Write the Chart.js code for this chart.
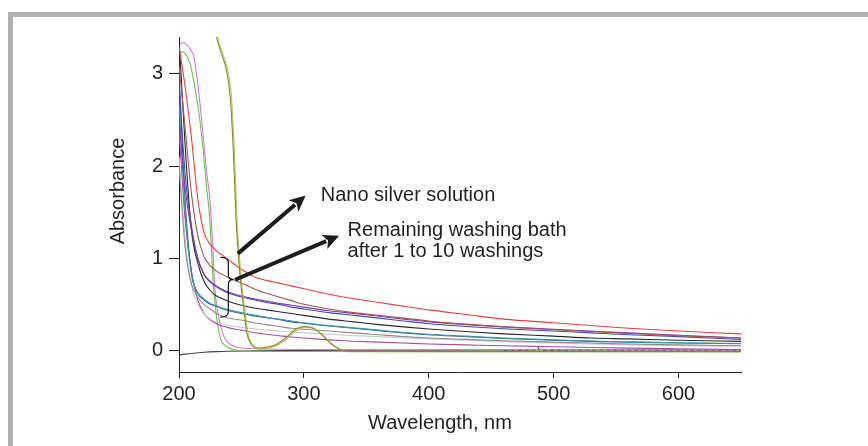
<!DOCTYPE html>
<html><head><meta charset="utf-8">
<script src="https://cdn.jsdelivr.net/npm/chart.js@4.4.0/dist/chart.umd.min.js"></script>
<style>
html,body{margin:0;padding:0;background:#fff;}
#wrap{position:relative;width:868px;height:446px;overflow:hidden;background:#fff;}
#frame{position:absolute;left:8px;top:12px;width:900px;height:500px;border-left:5px solid #b1b1b3;border-top:5px solid #b1b1b3;box-sizing:border-box;}
canvas{position:absolute;left:0;top:0;}
</style></head><body>
<div id="wrap"><div id="frame"></div><canvas id="c" width="868" height="446"></canvas></div>
<script>
// ---- data (wavelength in nm, absorbance) ----
const wlGrid = [200,205,210,215,220,225,230,235,240,250,260,270,280,290,300,320,340,360,380,400,430,460,500,530,560,600,650];
const redAbs    = [3.30,2.85,2.30,1.65,1.28,1.15,1.08,1.03,0.98,0.88,0.80,0.76,0.73,0.70,0.67,0.61,0.56,0.52,0.48,0.44,0.39,0.34,0.30,0.27,0.24,0.21,0.18];
const brownAbs  = [3.10,2.40,1.70,1.25,1.02,0.92,0.86,0.82,0.79,0.73,0.67,0.62,0.58,0.54,0.50,0.45,0.41,0.38,0.35,0.32,0.285,0.255,0.225,0.205,0.185,0.16,0.135];
const blueUpAbs = [2.90,1.90,1.35,1.00,0.82,0.74,0.69,0.65,0.62,0.58,0.55,0.52,0.50,0.47,0.45,0.41,0.38,0.35,0.32,0.29,0.26,0.235,0.21,0.19,0.17,0.15,0.12];
const purpleUpAbs = [2.50,1.75,1.30,1.00,0.83,0.75,0.70,0.66,0.63,0.59,0.56,0.535,0.51,0.49,0.47,0.43,0.40,0.37,0.34,0.31,0.28,0.255,0.23,0.21,0.19,0.165,0.135];
const blackMidAbs = [3.40,2.20,1.30,0.95,0.75,0.65,0.59,0.56,0.53,0.49,0.46,0.44,0.42,0.40,0.38,0.34,0.31,0.28,0.255,0.232,0.205,0.18,0.155,0.135,0.125,0.11,0.098];
const blueLowAbs  = [3.00,1.60,0.85,0.62,0.55,0.50,0.48,0.45,0.43,0.40,0.375,0.355,0.335,0.31,0.295,0.265,0.24,0.215,0.19,0.17,0.15,0.13,0.11,0.098,0.09,0.08,0.072];
const tealAbs     = [2.70,1.50,0.82,0.63,0.56,0.51,0.485,0.46,0.44,0.41,0.385,0.36,0.34,0.32,0.30,0.27,0.245,0.22,0.195,0.175,0.155,0.135,0.115,0.102,0.093,0.083,0.075];
const grayAbs     = [2.00,1.10,0.72,0.58,0.50,0.45,0.40,0.37,0.35,0.33,0.30,0.28,0.26,0.24,0.23,0.21,0.19,0.17,0.15,0.135,0.12,0.105,0.09,0.08,0.07,0.06,0.05];
const lightGrayAbs= [2.10,1.20,0.70,0.50,0.40,0.34,0.31,0.29,0.27,0.25,0.235,0.22,0.21,0.20,0.19,0.175,0.16,0.15,0.135,0.125,0.11,0.095,0.08,0.07,0.06,0.05,0.045];
const purpleLowAbs= [2.40,1.40,0.85,0.55,0.40,0.33,0.29,0.265,0.245,0.22,0.195,0.175,0.16,0.145,0.135,0.115,0.10,0.09,0.08,0.07,0.06,0.05,0.04,0.032,0.025,0.018,0.01];

const pinkWl  = [200,203,206,209,212,215,217,219.4,222,224.8,226.1,227.5,228.8,231,232.8,236,239.5,245,250,270,300,400,500,650];
const pinkAbs = [3.30,3.34,3.32,3.27,3.18,2.90,2.65,2.32,1.95,1.63,1.35,1.00,0.66,0.42,0.30,0.15,0.08,0.04,0.026,0.015,0.01,0.008,0.008,0.008];

const greenWl  = [200,202,205,208.6,212.7,216.7,219.5,222,224.2,226,227.4,229,230,232,234,236.5,239.5,245,250,300,400,500,650];
const greenAbs = [3.20,3.24,3.22,3.12,2.86,2.50,2.15,1.78,1.50,1.10,0.73,0.50,0.37,0.20,0.10,0.06,0.03,0.005,-0.005,-0.012,-0.014,-0.015,-0.017];

const nanoWl  = [227,230.1,234,238,241,243.6,245.7,247.6,249.5,251.6,254.3,258.4,263.7,270,277,285,293,300,305,310,316,322,327,332,340,400,500,650];
const nanoAbs = [3.70,3.40,3.22,3.04,2.75,2.14,1.42,1.02,0.72,0.48,0.19,0.06,0.026,0.035,0.06,0.13,0.225,0.26,0.255,0.22,0.15,0.07,0.026,-0.005,-0.01,-0.01,-0.01,-0.012];
const nano2Wl  = [228,231,235,239,242,244.4,246.5,248.4,250.3,252.4,255.2,259.4,264.5,271,278,286,294,301,306,311,317,323,328,333,341,400,500,650];
const nano2Abs = [3.70,3.40,3.22,3.04,2.75,2.14,1.42,1.02,0.72,0.48,0.19,0.05,0.015,0.025,0.05,0.12,0.215,0.25,0.245,0.21,0.14,0.06,0.018,-0.01,-0.015,-0.015,-0.015,-0.015];

const baseWl  = [200,205,210,215,220,230,240,260,280,300,350,400,500,650];
const baseAbs = [-0.048,-0.04,-0.033,-0.026,-0.02,-0.013,-0.009,-0.005,-0.002,0.0,0.002,0.003,0.004,0.005];

const noiseWl  = [460,480,485,487,489,495,520,560,600,650];
const noiseAbs = [0.003,0.003,0.004,0.035,0.004,0.003,0.004,0.004,0.005,0.005];

const xTicks = [200,300,400,500,600];
const yTicks = [0,1,2,3];

// annotation anchors in data units
const arrowTails = [[247.1,1.05],[244.9,0.767]];
const arrowHeads = [[301.4,1.68],[328.2,1.244]];
const braceX = [233.1,239.5,243.5];
const braceY = [1.01,0.767,0.362];
const noteTexts = ['Nano silver solution','Remaining washing bath','after 1 to 10 washings'];
const noteX = [313.5,335.0,335.0];
const noteY = [1.616,1.236,1.009];

// ---- build ----
const pts = (xs, ys) => xs.map((v,i)=>({x:v,y:ys[i]}));
const ds = (data, color, extra) => Object.assign({data, borderColor:color, backgroundColor:color, borderWidth:1.1, pointRadius:0, fill:false, cubicInterpolationMode:'monotone'}, extra||{});

const datasets = [
  ds(pts(nanoWl,nanoAbs), '#8a8a26'),
  ds(pts(nano2Wl,nano2Abs), '#b9c46c'),
  ds(pts(wlGrid,redAbs), '#e8413c'),
  ds(pts(wlGrid,brownAbs), '#a4544c'),
  ds(pts(wlGrid,purpleUpAbs), '#8a3a9e'),
  ds(pts(wlGrid,blueUpAbs), '#3b4cb0'),
  ds(pts(wlGrid,blackMidAbs), '#2a2a2a'),
  ds(pts(wlGrid,tealAbs), '#3a9a9a'),
  ds(pts(wlGrid,blueLowAbs), '#3358b8'),
  ds(pts(wlGrid,grayAbs), '#8c8c8c'),
  ds(pts(wlGrid,lightGrayAbs), '#c9c9c9'),
  ds(pts(wlGrid,purpleLowAbs), '#a650ac'),
  ds(pts(pinkWl,pinkAbs), '#cf7fd0'),
  ds(pts(greenWl,greenAbs), '#6cbf4a'),
  ds(pts(baseWl,baseAbs), '#444444'),
  ds(pts(noiseWl,noiseAbs), '#222222', {borderDash:[4,3]})
];

const FONT = '"Liberation Sans", Arial, Helvetica, sans-serif';
const INK = '#231f20';

function arrow(ctx, x1,y1,x2,y2){
  const ang = Math.atan2(y2-y1, x2-x1);
  const L = 16, W = 7.5;
  const bx = x2 - L*Math.cos(ang), by = y2 - L*Math.sin(ang);
  ctx.beginPath(); ctx.moveTo(x1,y1); ctx.lineTo(bx+2*Math.cos(ang),by+2*Math.sin(ang));
  ctx.lineWidth = 4; ctx.strokeStyle = '#1c1c1c'; ctx.lineCap='butt'; ctx.stroke();
  ctx.beginPath(); ctx.moveTo(x2,y2);
  ctx.lineTo(bx + W*Math.sin(ang), by - W*Math.cos(ang));
  ctx.lineTo(x2 - (L-4)*Math.cos(ang), y2 - (L-4)*Math.sin(ang));
  ctx.lineTo(bx - W*Math.sin(ang), by + W*Math.cos(ang));
  ctx.closePath(); ctx.fillStyle = '#1c1c1c'; ctx.fill();
}

const annot = {
  id:'annot',
  afterDatasetsDraw(chart){
    const {ctx, scales:{x,y}} = chart;
    const X = v=>x.getPixelForValue(v), Y = v=>y.getPixelForValue(v);
    ctx.save();
    // brace
    const xl=X(braceX[0]), xs=X(braceX[1]), xt=X(braceX[2]);
    const yt=Y(braceY[0]), ym=Y(braceY[1]), yb=Y(braceY[2]);
    ctx.beginPath();
    ctx.moveTo(xl,yt); ctx.quadraticCurveTo(xs,yt,xs,yt+5);
    ctx.lineTo(xs,ym-5); ctx.quadraticCurveTo(xs,ym,xt,ym);
    ctx.quadraticCurveTo(xs,ym,xs,ym+5);
    ctx.lineTo(xs,yb-5); ctx.quadraticCurveTo(xs,yb,xl,yb);
    ctx.lineWidth=1.2; ctx.strokeStyle='#111'; ctx.stroke();
    // arrows
    arrowTails.forEach((t,i)=>arrow(ctx, X(t[0]),Y(t[1]), X(arrowHeads[i][0]),Y(arrowHeads[i][1])));
    // notes
    ctx.font = '20px '+FONT; ctx.fillStyle = INK; ctx.textAlign='left'; ctx.textBaseline='alphabetic';
    noteTexts.forEach((t,i)=>ctx.fillText(t, X(noteX[i]), Y(noteY[i])));
    // axis titles
    ctx.textAlign='center'; ctx.textBaseline='middle';
    ctx.fillText('Wavelength, nm', 440, 423);
    ctx.translate(118,191); ctx.rotate(-Math.PI/2);
    ctx.fillText('Absorbance', 0, 0);
    ctx.restore();
  }
};

new Chart(document.getElementById('c'), {
  type:'line',
  data:{datasets},
  options:{
    responsive:false, animation:false, devicePixelRatio:1,
    layout:{padding:{left:0, top:37, right:127, bottom:0}},
    plugins:{legend:{display:false}, tooltip:{enabled:false}},
    scales:{
      x:{type:'linear', min:200, max:650,
         afterFit:s=>{s.height=74;},
         afterBuildTicks:s=>{s.ticks = xTicks.map(v=>({value:v}));},
         grid:{display:true, drawOnChartArea:false, drawTicks:true, tickLength:6, color:INK, lineWidth:1},
         border:{display:true, color:INK, width:1},
         ticks:{font:{family:FONT,size:20}, color:INK, padding:4, maxRotation:0}},
      y:{type:'linear', min:-0.234, max:3.40,
         afterFit:s=>{s.width=179;},
         afterBuildTicks:s=>{s.ticks = yTicks.map(v=>({value:v}));},
         grid:{display:true, drawOnChartArea:false, drawTicks:true, tickLength:10, color:INK, lineWidth:1},
         border:{display:true, color:INK, width:1},
         ticks:{font:{family:FONT,size:20}, color:INK, padding:6}}
    }
  },
  plugins:[annot]
});
</script>
</body></html>
